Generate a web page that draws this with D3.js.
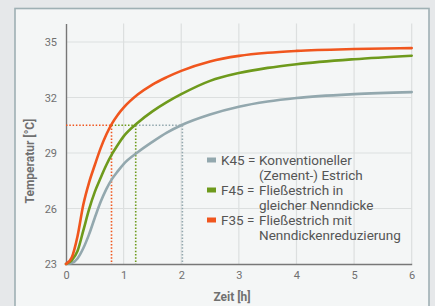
<!DOCTYPE html>
<html><head><meta charset="utf-8">
<script src="https://cdn.jsdelivr.net/npm/d3@7"></script>
<style>html,body{margin:0;padding:0;background:#e6e8ea;}svg{display:block;}</style>
</head><body>
<svg id="c" width="435" height="306"></svg>
<script>
const time = [0,0.1,0.2,0.3,0.4,0.5,0.6,0.7,0.8,0.9,1.0,1.25,1.5,1.75,2,2.5,3,3.5,4,5,6];
const k45  = [23,23.05,23.3,23.85,24.6,25.5,26.35,27.05,27.6,28.02,28.4,29.05,29.6,30.1,30.5,31.08,31.5,31.78,31.97,32.18,32.29];
const f45  = [23,23.2,23.7,24.8,25.95,26.9,27.65,28.35,28.95,29.45,29.9,30.65,31.25,31.75,32.18,32.9,33.32,33.6,33.8,34.07,34.26];
const f35  = [23,23.35,24.5,26.2,27.4,28.35,29.25,30.0,30.6,31.07,31.45,32.17,32.7,33.1,33.44,33.95,34.25,34.42,34.52,34.62,34.67];
const xTicks = [0,1,2,3,4,5,6];
const yTicks = [23,26,29,32,35];
const refTemp = 30.5;
const crossTimes = [0.79,1.21,2.02]; // F35, F45, K45
const legendLabels = [
  ["K45 =", "Konventioneller", "(Zement-) Estrich"],
  ["F45 =", "Fließestrich in", "gleicher Nenndicke"],
  ["F35 =", "Fließestrich mit", "Nenndickenreduzierung"]
];
const colors = {k45:"#93a8ae", f45:"#6e9a1c", f35:"#f0561e"};

const svg = d3.select("#c");
svg.append("rect").attr("x",15).attr("y",8.5).attr("width",414).attr("height",310)
  .attr("fill","#f4f6f6").attr("stroke","#9fb0b4").attr("stroke-width",1.6);

const x = d3.scaleLinear().domain([0,6]).range([66,411.7]);
const y = d3.scaleLinear().domain([23,36]).range([264,23.5]);
const g = svg.append("g");

// grid
g.selectAll(".gx").data(xTicks.slice(1)).join("line")
  .attr("x1",d=>x(d)).attr("x2",d=>x(d)).attr("y1",y(36)).attr("y2",y(23))
  .attr("stroke","#dcdfdf").attr("stroke-width",1.2);
g.selectAll(".gy").data(yTicks.slice(1)).join("line")
  .attr("x1",x(0)).attr("x2",x(6)).attr("y1",d=>y(d)).attr("y2",d=>y(d))
  .attr("stroke","#dcdfdf").attr("stroke-width",1.2);

// axes
const yAx = g.append("g").attr("transform",`translate(${x(0)},0)`)
  .call(d3.axisLeft(y).tickValues(yTicks).tickSize(0).tickPadding(9).tickFormat(d3.format("d")));
const xAx = g.append("g").attr("transform",`translate(0,${y(23)})`)
  .call(d3.axisBottom(x).tickValues(xTicks).tickSize(0).tickPadding(7).tickFormat(d3.format("d")));
[yAx,xAx].forEach(a=>{
  a.select(".domain").attr("stroke","#777").attr("stroke-width",1.4);
  a.selectAll("text").attr("font-family","Roboto").attr("font-size",11).attr("fill","#707070");
});

// dotted guides
const series = [
  {key:"f35", t:crossTimes[0]},
  {key:"f45", t:crossTimes[1]},
  {key:"k45", t:crossTimes[2]}
];
let prev = 0;
series.forEach(s=>{
  g.append("line").attr("x1",x(prev)).attr("x2",x(s.t)).attr("y1",y(refTemp)).attr("y2",y(refTemp))
    .attr("stroke",colors[s.key]).attr("stroke-width",1.6).attr("stroke-dasharray","1.5,1.8");
  g.append("line").attr("x1",x(s.t)).attr("x2",x(s.t)).attr("y1",y(refTemp)).attr("y2",y(23))
    .attr("stroke",colors[s.key]).attr("stroke-width",1.6).attr("stroke-dasharray","1.5,1.8");
  prev = s.t;
});

// curves
const line = d3.line().x((d,i)=>x(time[i])).y(d=>y(d)).curve(d3.curveMonotoneX);
[{k:"k45",v:k45},{k:"f45",v:f45},{k:"f35",v:f35}].forEach(s=>{
  g.append("path").attr("d",line(s.v)).attr("fill","none")
    .attr("stroke",colors[s.k]).attr("stroke-width",2.6).attr("stroke-linecap","round");
});

// legend
const lg = svg.append("g").attr("font-family","Roboto").attr("font-size",13.5).attr("fill","#555");
const keys = ["k45","f45","f35"];
legendLabels.forEach((lab,i)=>{
  const yy = 160 + i*30;
  lg.append("rect").attr("x",207).attr("y",yy-2.5).attr("width",9).attr("height",5).attr("fill",colors[keys[i]]);
  lg.append("text").attr("x",221).attr("y",yy+4.5).text(lab[0]);
  lg.append("text").attr("x",259).attr("y",yy+4.5).text(lab[1]);
  lg.append("text").attr("x",259).attr("y",yy+19.5).text(lab[2]);
});

// axis titles
svg.append("text").attr("x",232).attr("y",301).attr("text-anchor","middle")
  .attr("font-family","Roboto").attr("font-weight","bold").attr("font-size",12).attr("fill","#707070")
  .text("Zeit [h]");
svg.append("text").attr("transform","translate(34,161) rotate(-90)").attr("text-anchor","middle")
  .attr("font-family","Roboto").attr("font-weight","bold").attr("font-size",12).attr("fill","#707070")
  .text("Temperatur [°C]");
</script>
</body></html>
